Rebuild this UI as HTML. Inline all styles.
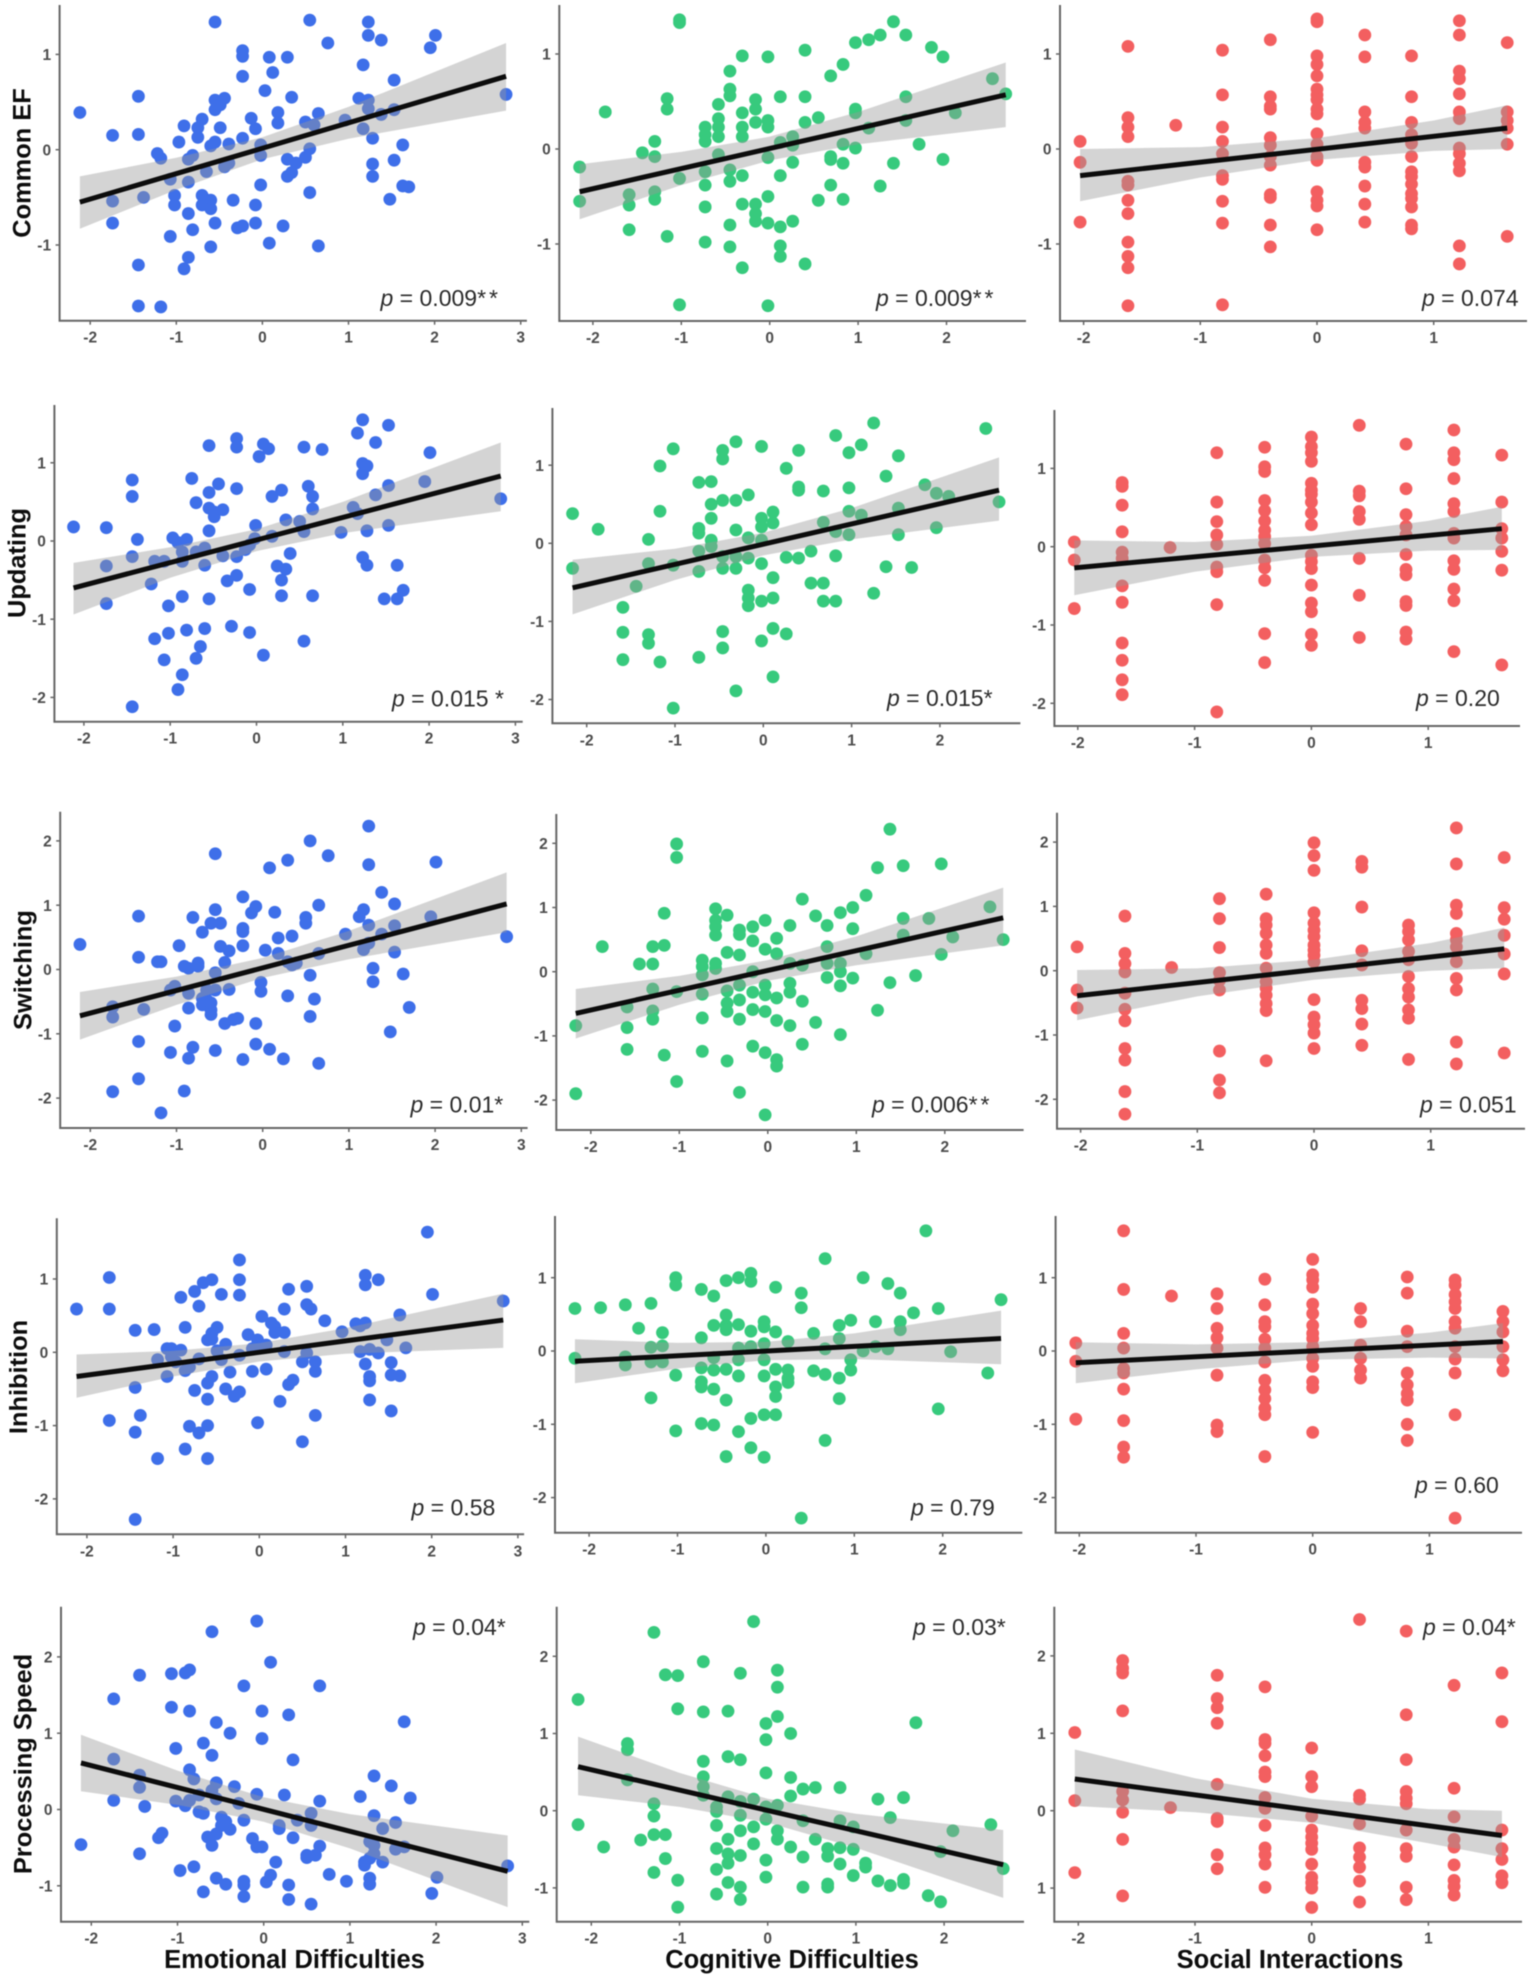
<!DOCTYPE html>
<html lang="en">
<head>
<meta charset="utf-8">
<title>Executive function and difficulties scatter matrix</title>
<style>
html,body{margin:0;padding:0;background:#fff;}
#chart{display:block;width:1535px;height:1981px;filter:blur(0.55px);}
text{font-family:"Liberation Sans",Arial,sans-serif;}
.row-title,.col-title{font-weight:bold;font-size:25.4px;fill:#0d0d0d;}
.col-title{font-size:25.5px;}
.tick-label{font-weight:bold;font-size:15.5px;fill:#4d4d4d;}
.p-label{font-size:23px;fill:#2b2b2b;}
.p-label .pi{font-style:italic;}
.p-label .st{letter-spacing:3px;}
</style>
</head>
<body>
<svg id="chart" xmlns="http://www.w3.org/2000/svg" width="1535" height="1981" viewBox="0 0 1535 1981">
<rect width="1535" height="1981" fill="#fff"/>
<g id="panels"></g>
<g>
<text class="row-title" text-anchor="middle" transform="translate(30.3 163) rotate(-90)">Common EF</text>
<text class="row-title" text-anchor="middle" transform="translate(25.3 563) rotate(-90)">Updating</text>
<text class="row-title" text-anchor="middle" transform="translate(31.7 970) rotate(-90)">Switching</text>
<text class="row-title" text-anchor="middle" transform="translate(26.9 1377) rotate(-90)">Inhibition</text>
<text class="row-title" text-anchor="middle" transform="translate(31.7 1764) rotate(-90)">Processing Speed</text>
</g>
<g>
<text class="col-title" text-anchor="middle" x="294.5" y="1968">Emotional Difficulties</text>
<text class="col-title" text-anchor="middle" x="792" y="1968">Cognitive Difficulties</text>
<text class="col-title" text-anchor="middle" x="1290" y="1968">Social Interactions</text>
</g>
<g>
<text class="p-label" x="380.5" y="306"><tspan class="pi">p</tspan> = 0.009<tspan class="st">**</tspan></text>
<text class="p-label" x="876" y="306"><tspan class="pi">p</tspan> = 0.009<tspan class="st">**</tspan></text>
<text class="p-label" x="1422" y="306"><tspan class="pi">p</tspan> = 0.074</text>
<text class="p-label" x="392" y="706.5"><tspan class="pi">p</tspan> = 0.015 *</text>
<text class="p-label" x="887" y="706"><tspan class="pi">p</tspan> = 0.015*</text>
<text class="p-label" x="1416" y="706"><tspan class="pi">p</tspan> = 0.20</text>
<text class="p-label" x="410.5" y="1112.5"><tspan class="pi">p</tspan> = 0.01*</text>
<text class="p-label" x="872" y="1112.5"><tspan class="pi">p</tspan> = 0.006<tspan class="st">**</tspan></text>
<text class="p-label" x="1420" y="1112.5"><tspan class="pi">p</tspan> = 0.051</text>
<text class="p-label" x="411.5" y="1515.5"><tspan class="pi">p</tspan> = 0.58</text>
<text class="p-label" x="911" y="1515.5"><tspan class="pi">p</tspan> = 0.79</text>
<text class="p-label" x="1415" y="1493"><tspan class="pi">p</tspan> = 0.60</text>
<text class="p-label" x="413" y="1635"><tspan class="pi">p</tspan> = 0.04*</text>
<text class="p-label" x="913" y="1635"><tspan class="pi">p</tspan> = 0.03*</text>
<text class="p-label" x="1423" y="1635"><tspan class="pi">p</tspan> = 0.04*</text>
</g>
</svg>
<script>
// Axis ticks
const xTicksEmotional = [-2, -1, 0, 1, 2, 3];
const xTicksCognitive = [-2, -1, 0, 1, 2];
const xTicksSocial = [-2, -1, 0, 1];
const yTicksCommonEf = [-1, 0, 1];
const yTicksUpdating = [-2, -1, 0, 1];
const yTicksSwitching = [-2, -1, 0, 1, 2];
const yTicksInhibition = [-2, -1, 0, 1];
const yTicksSpeed = [-1, 0, 1, 2];
// the reference prints the lowest tick of the last panel without its minus sign
const yLabelsSpeedSocial = ["1", "0", "1", "2"];

// Series: [x, y]
const commonEfEmotional = [[-2.12,0.39],[-1.74,0.15],[-1.74,-0.54],[-1.74,-0.77],[-1.44,0.56],[-1.44,0.16],[-1.38,-0.5],[-1.44,-1.21],[-1.44,-1.64],[-1.18,-1.65],[-1.22,-0.04],[-1.18,-0.09],[-1.07,-0.31],[-1.02,-0.48],[-1.02,-0.58],[-1.07,-0.91],[-0.97,0.08],[-0.91,0.25],[-0.86,-0.1],[-0.86,-0.34],[-0.86,-0.67],[-0.81,-0.84],[-0.86,-1.13],[-0.91,-1.25],[-0.81,-0.06],[-0.75,0.23],[-0.7,0.32],[-0.75,0.13],[-0.65,-0.23],[-0.7,-0.48],[-0.7,-0.58],[-0.65,-0.53],[-0.6,-0.53],[-0.6,-0.62],[-0.55,-0.77],[-0.6,-1.02],[-0.6,0.04],[-0.55,0.08],[-0.55,1.34],[-0.55,0.52],[-0.55,0.42],[-0.49,0.47],[-0.44,0.54],[-0.49,0.23],[-0.39,0.06],[-0.44,-0.18],[-0.39,-0.14],[-0.34,-0.53],[-0.29,-0.82],[-0.23,-0.8],[-0.23,0.12],[-0.23,0.77],[-0.23,0.98],[-0.23,1.04],[-0.13,0.33],[-0.08,0.22],[-0.08,-0.58],[-0.08,-0.77],[-0.02,0.05],[-0.02,-0.06],[-0.02,-0.37],[0.03,0.62],[0.08,0.97],[0.12,0.81],[0.08,-0.98],[0.18,0.39],[0.18,0.28],[0.24,-0.8],[0.29,0.97],[0.29,-0.1],[0.29,-0.28],[0.34,-0.24],[0.34,0.55],[0.39,-0.14],[0.5,0.29],[0.5,-0.08],[0.55,0.01],[0.55,-0.45],[0.55,1.36],[0.6,0.26],[0.65,0.38],[0.65,-1.01],[0.76,1.12],[0.96,0.31],[1.12,0.54],[1.17,0.89],[1.17,0.22],[1.23,0.52],[1.23,0.43],[1.23,1.2],[1.23,1.34],[1.28,0.12],[1.28,-0.15],[1.28,-0.28],[1.38,1.15],[1.38,0.37],[1.48,-0.52],[1.53,0.73],[1.53,0.42],[1.53,-0.11],[1.63,0.05],[1.63,-0.38],[1.7,-0.39],[1.95,1.07],[2.01,1.2],[2.83,0.58]];
const commonEfCognitive = [[-2.15,-0.19],[-2.15,-0.55],[-1.86,0.39],[-1.59,-0.48],[-1.59,-0.59],[-1.59,-0.85],[-1.44,-0.04],[-1.3,0.08],[-1.3,-0.08],[-1.3,-0.45],[-1.3,-0.53],[-1.16,0.53],[-1.16,0.42],[-1.16,-0.92],[-1.02,1.36],[-1.02,1.33],[-1.02,-0.31],[-1.02,-1.64],[-0.73,0.23],[-0.73,0.15],[-0.73,0.08],[-0.73,-0.24],[-0.73,-0.38],[-0.73,-0.61],[-0.73,-0.98],[-0.58,0.47],[-0.58,0.32],[-0.58,0.23],[-0.58,0.13],[-0.58,-0.06],[-0.45,0.82],[-0.45,0.63],[-0.45,0.56],[-0.45,-0.22],[-0.45,-0.34],[-0.45,-0.8],[-0.45,-1.03],[-0.31,0.98],[-0.31,0.38],[-0.31,0.23],[-0.31,0.13],[-0.31,-0.28],[-0.31,-0.58],[-0.31,-1.25],[-0.16,0.52],[-0.16,0.42],[-0.16,0.28],[-0.16,-0.58],[-0.16,-0.68],[-0.16,-0.76],[-0.02,0.97],[-0.02,0.3],[-0.02,0.23],[-0.02,-0.09],[-0.02,-0.5],[-0.02,-0.78],[-0.02,-1.65],[0.12,0.55],[0.12,0.07],[0.12,-0.28],[0.12,-0.82],[0.12,-1.02],[0.12,-1.13],[0.26,0.13],[0.26,0.04],[0.26,-0.14],[0.26,-0.76],[0.4,1.04],[0.4,0.55],[0.4,0.28],[0.4,-1.21],[0.55,0.33],[0.55,-0.54],[0.69,0.77],[0.69,-0.08],[0.69,-0.11],[0.69,-0.38],[0.83,0.89],[0.83,0.05],[0.83,-0.15],[0.83,-0.53],[0.97,1.12],[0.97,0.42],[0.97,0.38],[0.97,0.01],[1.12,1.15],[1.12,0.22],[1.25,1.2],[1.25,-0.39],[1.4,1.34],[1.4,-0.15],[1.54,1.2],[1.54,0.55],[1.54,0.3],[1.69,0.05],[1.83,1.07],[1.96,0.97],[1.96,-0.11],[2.1,0.38],[2.52,0.74],[2.67,0.58]];
const commonEfSocial = [[-2.03,0.08],[-2.03,-0.14],[-2.03,-0.77],[-1.62,1.08],[-1.62,0.33],[-1.62,0.23],[-1.62,0.13],[-1.62,-0.34],[-1.62,-0.38],[-1.62,-0.54],[-1.62,-0.68],[-1.62,-0.98],[-1.62,-1.13],[-1.62,-1.25],[-1.62,-1.65],[-1.21,0.25],[-0.81,1.04],[-0.81,0.57],[-0.81,0.23],[-0.81,0.08],[-0.81,-0.05],[-0.81,-0.28],[-0.81,-0.32],[-0.81,-0.55],[-0.81,-0.78],[-0.81,-1.64],[-0.4,1.15],[-0.4,0.55],[-0.4,0.45],[-0.4,0.42],[-0.4,0.12],[-0.4,0.04],[-0.4,-0.08],[-0.4,-0.17],[-0.4,-0.48],[-0.4,-0.51],[-0.4,-0.8],[-0.4,-1.03],[0,1.37],[0,1.34],[0,0.98],[0,0.89],[0,0.77],[0,0.63],[0,0.57],[0,0.52],[0,0.42],[0,0.37],[0,0.16],[0,0.05],[0,-0.08],[0,-0.12],[0,-0.45],[0,-0.54],[0,-0.6],[0,-0.85],[0.41,1.2],[0.41,0.97],[0.41,0.39],[0.41,0.28],[0.41,0.22],[0.41,-0.14],[0.41,-0.19],[0.41,-0.39],[0.41,-0.58],[0.41,-0.77],[0.81,0.98],[0.81,0.55],[0.81,0.28],[0.81,0.15],[0.81,0.06],[0.81,-0.08],[0.81,-0.24],[0.81,-0.29],[0.81,-0.37],[0.81,-0.47],[0.81,-0.52],[0.81,-0.61],[0.81,-0.8],[0.81,-0.84],[1.22,1.35],[1.22,1.2],[1.22,0.82],[1.22,0.74],[1.22,0.58],[1.22,0.39],[1.22,0.32],[1.22,0.01],[1.22,-0.05],[1.22,-0.15],[1.22,-0.23],[1.22,-1.02],[1.22,-1.21],[1.63,1.12],[1.63,0.39],[1.63,0.3],[1.63,0.22],[1.63,0.05],[1.63,-0.92]];

const updatingEmotional = [[-2.12,0.18],[-1.74,0.17],[-1.74,-0.32],[-1.74,-0.8],[-1.44,0.78],[-1.44,0.57],[-1.44,-0.2],[-1.44,-2.12],[-1.38,0.02],[-1.22,-0.55],[-1.18,-0.26],[-1.18,-1.25],[-1.07,-0.26],[-1.07,-1.52],[-1.02,-0.83],[-1.02,-1.18],[-0.97,0.04],[-0.91,-0.02],[-0.91,-1.9],[-0.86,-0.14],[-0.86,-0.26],[-0.86,-0.71],[-0.86,-1.71],[-0.81,0.02],[-0.81,-1.14],[-0.75,0.8],[-0.7,0.49],[-0.7,-0.14],[-0.7,-1.5],[-0.65,-1.35],[-0.6,-0.09],[-0.6,-0.31],[-0.6,-1.12],[-0.55,1.22],[-0.55,0.62],[-0.55,0.42],[-0.55,0.13],[-0.55,-0.74],[-0.49,0.37],[-0.49,0.31],[-0.44,0.73],[-0.39,0.4],[-0.39,-0.19],[-0.34,-0.51],[-0.29,-1.09],[-0.23,1.31],[-0.23,1.2],[-0.23,0.67],[-0.23,-0.2],[-0.23,-0.44],[-0.13,-0.11],[-0.08,-0.05],[-0.08,-0.62],[-0.08,-1.17],[-0.02,0.03],[-0.01,0.2],[0.03,1.08],[0.08,1.24],[0.08,-1.46],[0.14,1.18],[0.18,0.57],[0.18,0.06],[0.24,-0.32],[0.29,0.65],[0.29,-0.5],[0.29,-0.7],[0.34,0.27],[0.34,-0.36],[0.39,-0.16],[0.5,0.25],[0.55,1.2],[0.55,0.12],[0.55,-1.28],[0.6,0.7],[0.65,0.57],[0.65,0.41],[0.65,-0.7],[0.76,1.17],[0.98,0.11],[1.12,0.43],[1.17,1.38],[1.17,0.35],[1.23,1.55],[1.23,0.99],[1.23,0.86],[1.23,-0.21],[1.28,0.96],[1.28,0.13],[1.28,-0.31],[1.38,1.26],[1.38,0.59],[1.48,-0.74],[1.53,1.48],[1.53,0.71],[1.53,0.2],[1.63,-0.31],[1.63,-0.74],[1.7,-0.63],[1.95,0.76],[2.01,1.13],[2.83,0.54]];
const updatingCognitive = [[-2.16,0.38],[-2.16,-0.32],[-1.87,0.18],[-1.59,-0.82],[-1.59,-1.14],[-1.59,-1.49],[-1.44,-0.55],[-1.3,0.05],[-1.3,-0.26],[-1.3,-1.17],[-1.3,-1.28],[-1.17,0.99],[-1.17,0.41],[-1.17,-1.52],[-1.02,1.21],[-1.02,-0.28],[-1.02,-2.11],[-0.73,0.78],[-0.73,0.19],[-0.73,0.13],[-0.73,-0.1],[-0.73,-0.36],[-0.73,-1.46],[-0.59,0.79],[-0.59,0.5],[-0.59,0.32],[-0.59,0.04],[-0.59,-0.04],[-0.46,1.19],[-0.46,1.08],[-0.46,0.55],[-0.46,-0.17],[-0.46,-0.32],[-0.46,-1.13],[-0.46,-1.34],[-0.31,1.3],[-0.31,0.55],[-0.31,0.17],[-0.31,-0.17],[-0.31,-0.32],[-0.31,-1.89],[-0.17,0.62],[-0.17,0.07],[-0.17,-0.19],[-0.17,-0.6],[-0.17,-0.7],[-0.17,-0.8],[-0.02,1.24],[-0.02,0.32],[-0.02,0.21],[-0.02,0.04],[-0.02,-0.26],[-0.02,-0.74],[-0.02,-1.25],[0.11,0.4],[0.11,0.26],[0.11,-0.44],[0.11,-0.7],[0.11,-1.09],[0.11,-1.71],[0.26,0.96],[0.26,-0.18],[0.26,-1.16],[0.4,1.19],[0.4,0.72],[0.4,0.68],[0.4,-0.19],[0.54,-0.1],[0.54,-0.51],[0.68,0.67],[0.68,0.27],[0.68,-0.51],[0.68,-0.74],[0.82,1.38],[0.82,0.15],[0.82,-0.16],[0.82,-0.74],[0.97,1.16],[0.97,0.71],[0.97,0.41],[0.97,0.11],[1.11,1.26],[1.11,0.36],[1.25,1.54],[1.25,-0.64],[1.39,0.86],[1.39,-0.3],[1.53,1.12],[1.53,0.45],[1.53,0.11],[1.68,-0.31],[1.83,0.75],[1.96,0.64],[1.96,0.2],[2.1,0.6],[2.52,1.47],[2.67,0.53]];
const updatingSocial = [[-2.03,0.06],[-2.03,-0.17],[-2.03,-0.79],[-1.62,0.82],[-1.62,0.77],[-1.62,0.53],[-1.62,0.19],[-1.62,-0.07],[-1.62,-0.15],[-1.62,-0.5],[-1.62,-0.71],[-1.62,-1.23],[-1.62,-1.45],[-1.62,-1.7],[-1.62,-1.89],[-1.21,-0.01],[-0.81,1.2],[-0.81,0.57],[-0.81,0.32],[-0.81,0.15],[-0.81,0.03],[-0.81,-0.26],[-0.81,-0.32],[-0.81,-0.74],[-0.81,-2.11],[-0.4,1.27],[-0.4,1.02],[-0.4,0.96],[-0.4,0.59],[-0.4,0.46],[-0.4,0.33],[-0.4,0.21],[-0.4,0.13],[-0.4,0.04],[-0.4,-0.17],[-0.4,-0.27],[-0.4,-0.43],[-0.4,-1.11],[-0.4,-1.48],[0,1.4],[0,1.28],[0,1.2],[0,1.09],[0,0.81],[0,0.72],[0,0.67],[0,0.57],[0,0.43],[0,0.28],[0,-0.11],[0,-0.19],[0,-0.28],[0,-0.49],[0,-0.72],[0,-0.83],[0,-1.12],[0,-1.26],[0.41,1.55],[0.41,0.71],[0.41,0.65],[0.41,0.45],[0.41,0.35],[0.41,-0.15],[0.41,-0.62],[0.41,-1.16],[0.81,1.31],[0.81,0.74],[0.81,0.41],[0.81,0.26],[0.81,0.15],[0.81,-0.1],[0.81,-0.29],[0.81,-0.36],[0.81,-0.7],[0.81,-0.75],[0.81,-1.09],[0.81,-1.18],[1.22,1.49],[1.22,1.2],[1.22,1.11],[1.22,0.87],[1.22,0.55],[1.22,0.45],[1.22,0.17],[1.22,0.11],[1.22,-0.18],[1.22,-0.29],[1.22,-0.54],[1.22,-0.69],[1.22,-1.34],[1.63,1.17],[1.63,0.57],[1.63,0.23],[1.63,0.11],[1.63,-0.06],[1.63,-0.3],[1.63,-1.51]];

const switchingEmotional = [[-2.12,0.39],[-1.74,-0.58],[-1.74,-0.74],[-1.74,-1.9],[-1.44,0.83],[-1.44,0.19],[-1.44,-1.12],[-1.44,-1.7],[-1.38,-0.62],[-1.22,0.12],[-1.18,0.12],[-1.18,-2.23],[-1.07,-0.32],[-1.07,-1.29],[-1.02,-0.26],[-1.02,-0.88],[-0.97,0.37],[-0.91,0.05],[-0.91,-1.89],[-0.86,0.02],[-0.86,-0.37],[-0.86,-0.6],[-0.86,-1.38],[-0.81,0.81],[-0.81,-1.21],[-0.75,0.1],[-0.75,0.05],[-0.7,0.58],[-0.7,-0.45],[-0.7,-0.55],[-0.65,-0.32],[-0.65,-0.47],[-0.65,-0.55],[-0.6,0.72],[-0.6,-0.52],[-0.6,-0.63],[-0.6,-0.7],[-0.55,1.8],[-0.55,0.93],[-0.55,-0.05],[-0.55,-0.32],[-0.55,-1.26],[-0.49,0.72],[-0.49,0.36],[-0.44,0.11],[-0.44,-0.84],[-0.39,0.29],[-0.39,-0.31],[-0.34,-0.78],[-0.29,-0.76],[-0.23,1.13],[-0.23,0.64],[-0.23,0.59],[-0.23,0.37],[-0.23,-1.4],[-0.13,0.88],[-0.08,0.98],[-0.08,-0.84],[-0.08,-1.16],[-0.02,-0.2],[-0.02,-0.34],[0.03,0.3],[0.08,1.58],[0.08,-1.24],[0.14,0.89],[0.18,0.49],[0.18,0.25],[0.24,-1.39],[0.29,1.7],[0.29,0.12],[0.29,-0.41],[0.34,0.52],[0.34,0.07],[0.39,0.1],[0.5,0.81],[0.5,0.72],[0.55,2],[0.55,-0.09],[0.55,-0.73],[0.6,-0.46],[0.65,1],[0.65,0.25],[0.65,-1.46],[0.76,1.77],[0.96,0.55],[1.12,0.82],[1.17,0.93],[1.17,0.31],[1.23,2.23],[1.23,1.63],[1.23,0.69],[1.23,0.41],[1.28,0.02],[1.28,-0.19],[1.38,1.2],[1.38,0.55],[1.48,-0.97],[1.53,1.02],[1.53,0.68],[1.53,0.27],[1.63,-0.07],[1.7,-0.59],[1.95,0.82],[2.01,1.67],[2.83,0.51]];
const switchingCognitive = [[-2.17,-0.84],[-2.17,-1.9],[-1.87,0.39],[-1.59,-0.55],[-1.59,-0.87],[-1.59,-1.21],[-1.45,0.12],[-1.3,0.39],[-1.3,0.12],[-1.3,-0.27],[-1.3,-0.61],[-1.3,-0.74],[-1.17,0.91],[-1.17,0.41],[-1.17,-1.3],[-1.03,1.99],[-1.03,1.78],[-1.03,-0.31],[-1.03,-1.71],[-0.74,0.18],[-0.74,0.08],[-0.74,-0.05],[-0.74,-0.35],[-0.74,-0.72],[-0.74,-1.24],[-0.59,0.98],[-0.59,0.8],[-0.59,0.7],[-0.59,0.57],[-0.59,0.13],[-0.59,0.05],[-0.46,0.88],[-0.46,0.3],[-0.46,-0.3],[-0.46,-0.49],[-0.46,-0.62],[-0.46,-1.39],[-0.32,0.65],[-0.32,0.58],[-0.32,0.26],[-0.32,-0.21],[-0.32,-0.44],[-0.32,-0.74],[-0.32,-1.88],[-0.17,0.7],[-0.17,0.48],[-0.17,0],[-0.17,-0.32],[-0.17,-0.59],[-0.17,-1.16],[-0.03,0.8],[-0.03,0.35],[-0.03,-0.21],[-0.03,-0.36],[-0.03,-0.62],[-0.03,-1.26],[-0.03,-2.23],[0.1,0.52],[0.1,0.28],[0.1,-0.41],[0.1,-0.76],[0.1,-1.37],[0.1,-1.47],[0.25,0.72],[0.25,0.13],[0.25,-0.18],[0.25,-0.32],[0.25,-0.84],[0.39,1.13],[0.39,0.1],[0.39,-0.46],[0.39,-1.13],[0.54,0.87],[0.54,-0.79],[0.67,0.72],[0.67,0.39],[0.67,0.13],[0.67,-0.09],[0.82,0.92],[0.82,0.13],[0.82,0],[0.82,-0.22],[0.82,-0.98],[0.96,1],[0.96,0.67],[0.96,-0.1],[1.11,1.19],[1.11,0.28],[1.24,1.62],[1.24,-0.6],[1.38,2.22],[1.38,-0.17],[1.53,1.65],[1.53,0.83],[1.53,0.57],[1.67,-0.06],[1.82,0.83],[1.96,1.68],[1.96,0.27],[2.09,0.54],[2.51,1.01],[2.66,0.5]];
const switchingSocial = [[-2.03,0.37],[-2.03,-0.3],[-2.03,-0.58],[-1.62,0.85],[-1.62,0.27],[-1.62,0.11],[-1.62,-0.02],[-1.62,-0.35],[-1.62,-0.6],[-1.62,-0.78],[-1.62,-1.21],[-1.62,-1.39],[-1.62,-1.88],[-1.62,-2.23],[-1.22,0.05],[-0.81,1.12],[-0.81,0.81],[-0.81,0.36],[-0.81,-0.03],[-0.81,-0.15],[-0.81,-0.3],[-0.81,-1.25],[-0.81,-1.7],[-0.81,-1.9],[-0.41,1.19],[-0.41,0.81],[-0.41,0.71],[-0.41,0.58],[-0.41,0.4],[-0.41,0.27],[-0.41,0.04],[-0.41,-0.17],[-0.41,-0.27],[-0.41,-0.38],[-0.41,-0.51],[-0.41,-0.62],[-0.41,-1.4],[0,1.99],[0,1.79],[0,1.56],[0,0.9],[0,0.74],[0,0.63],[0,0.53],[0,0.4],[0,0.32],[0,0.24],[0,0.14],[0,-0.45],[0,-0.72],[0,-0.84],[0,-0.97],[0,-1.21],[0.41,1.7],[0.41,1.61],[0.41,0.99],[0.41,0.31],[0.41,0.09],[0.41,-0.46],[0.41,-0.59],[0.41,-0.83],[0.41,-1.16],[0.81,0.71],[0.81,0.61],[0.81,0.48],[0.81,0.3],[0.81,0.17],[0.81,-0.09],[0.81,-0.28],[0.81,-0.41],[0.81,-0.61],[0.81,-0.74],[0.81,-1.38],[1.22,2.22],[1.22,1.66],[1.22,1.02],[1.22,0.89],[1.22,0.58],[1.22,0.48],[1.22,0.37],[1.22,0.14],[1.22,-0.12],[1.22,-0.3],[1.22,-1.11],[1.22,-1.45],[1.63,1.76],[1.63,0.98],[1.63,0.8],[1.63,0.55],[1.63,0.26],[1.63,-0.05],[1.63,-1.28]];

const inhibitionEmotional = [[-2.12,0.59],[-1.74,1.02],[-1.74,0.59],[-1.74,-0.93],[-1.44,0.3],[-1.44,-0.48],[-1.44,-1.09],[-1.44,-2.28],[-1.38,-0.86],[-1.22,0.31],[-1.18,-0.1],[-1.18,-1.45],[-1.07,0.05],[-1.07,-0.33],[-1.02,0.05],[-1.02,-0.06],[-0.97,-0.13],[-0.91,0.03],[-0.91,0.75],[-0.86,0.34],[-0.86,-0.25],[-0.86,-1.32],[-0.81,-1.01],[-0.81,-0.2],[-0.75,0.83],[-0.75,-0.52],[-0.7,0.63],[-0.7,-0.09],[-0.7,-1.1],[-0.65,0.95],[-0.6,0.17],[-0.6,-0.42],[-0.6,-0.64],[-0.6,-1],[-0.6,-1.45],[-0.55,0.99],[-0.55,0.26],[-0.55,0.18],[-0.55,-0.33],[-0.49,0.34],[-0.49,0.02],[-0.44,0.79],[-0.44,-0.1],[-0.39,0.11],[-0.39,-0.5],[-0.34,-0.27],[-0.29,-0.6],[-0.23,1.26],[-0.23,0.99],[-0.23,0.78],[-0.23,-0.04],[-0.23,-0.54],[-0.13,0.24],[-0.08,0.05],[-0.08,-0.26],[-0.02,0.17],[-0.02,-0.96],[0.03,0.49],[0.03,0.08],[0.08,0.1],[0.08,-0.23],[0.14,0.4],[0.18,0.35],[0.18,0.27],[0.24,-0.67],[0.29,0.59],[0.29,0.27],[0.29,0.01],[0.34,0.86],[0.34,-0.44],[0.39,-0.38],[0.5,-0.13],[0.5,-1.22],[0.55,0.9],[0.55,0.65],[0.55,-0.01],[0.6,0.59],[0.65,-0.13],[0.65,-0.26],[0.65,-0.86],[0.76,0.43],[0.96,0.28],[1.12,0.39],[1.17,0.01],[1.17,0.36],[1.23,1.05],[1.23,0.92],[1.23,0.4],[1.23,-0.16],[1.28,0.04],[1.28,-0.33],[1.28,-0.39],[1.28,-0.65],[1.38,0.99],[1.38,-0.01],[1.48,0.17],[1.53,-0.14],[1.53,-0.31],[1.53,-0.8],[1.63,0.51],[1.63,-0.32],[1.7,0.06],[1.95,1.64],[2.01,0.79],[2.83,0.7]];
const inhibitionCognitive = [[-2.16,0.58],[-2.16,-0.1],[-1.87,0.59],[-1.59,0.63],[-1.59,-0.08],[-1.59,-0.19],[-1.44,0.31],[-1.3,0.65],[-1.3,0.05],[-1.3,-0.15],[-1.3,-0.64],[-1.17,0.25],[-1.17,0.07],[-1.17,-0.15],[-1.02,1],[-1.02,0.9],[-1.02,-0.33],[-1.02,-1.09],[-0.73,0.84],[-0.73,0.18],[-0.73,-0.23],[-0.73,-0.42],[-0.73,-0.49],[-0.73,-0.99],[-0.59,0.75],[-0.59,0.35],[-0.59,-0.09],[-0.59,-0.26],[-0.59,-0.52],[-0.59,-1.01],[-0.45,0.96],[-0.45,0.49],[-0.45,0.35],[-0.45,0.29],[-0.45,-0.25],[-0.45,-0.67],[-0.45,-1.44],[-0.31,1],[-0.31,0.36],[-0.31,0.04],[-0.31,-0.12],[-0.31,-0.34],[-0.31,-1.1],[-0.17,1.06],[-0.17,0.95],[-0.17,0.27],[-0.17,0.06],[-0.17,-0.92],[-0.17,-1.32],[-0.02,0.4],[-0.02,0.33],[-0.02,0.1],[-0.02,-0.12],[-0.02,-0.34],[-0.02,-0.87],[-0.02,-1.45],[0.11,0.87],[0.11,0.26],[0.11,-0.25],[0.11,-0.49],[0.11,-0.62],[0.11,-0.87],[0.25,0.13],[0.25,-0.26],[0.25,-0.37],[0.25,-0.43],[0.4,0.79],[0.4,0.59],[0.4,-2.28],[0.54,0.24],[0.54,-0.27],[0.67,1.26],[0.67,0.03],[0.67,-0.32],[0.67,-1.22],[0.83,0.35],[0.83,0.17],[0.83,-0.37],[0.83,-0.65],[0.96,0.42],[0.96,-0.12],[0.96,-0.26],[1.1,1],[1.1,0],[1.24,0.4],[1.24,0.06],[1.38,0.92],[1.38,0.03],[1.52,0.79],[1.52,0.4],[1.52,0.29],[1.67,0.52],[1.81,1.64],[1.95,0.58],[1.95,-0.79],[2.09,-0.01],[2.51,-0.3],[2.66,0.7]];
const inhibitionSocial = [[-2.03,0.11],[-2.03,-0.14],[-2.03,-0.93],[-1.62,1.64],[-1.62,0.84],[-1.62,0.24],[-1.62,0.04],[-1.62,-0.24],[-1.62,-0.3],[-1.62,-0.52],[-1.62,-0.95],[-1.62,-1.31],[-1.62,-1.45],[-1.21,0.75],[-0.82,0.78],[-0.82,0.58],[-0.82,0.31],[-0.82,0.18],[-0.82,0.04],[-0.82,-0.33],[-0.82,-1.01],[-0.82,-1.1],[-0.41,0.98],[-0.41,0.63],[-0.41,0.4],[-0.41,0.33],[-0.41,0.16],[-0.41,0.04],[-0.41,-0.15],[-0.41,-0.4],[-0.41,-0.53],[-0.41,-0.65],[-0.41,-0.78],[-0.41,-0.87],[-0.41,-1.44],[0,1.25],[0,1.04],[0,0.97],[0,0.87],[0,0.64],[0,0.51],[0,0.35],[0,0.24],[0,0.17],[0,0.06],[0,-0.1],[0,-0.21],[0,-0.42],[0,-0.5],[0,-1.11],[0.41,0.58],[0.41,0.4],[0.41,0.08],[0.41,-0.1],[0.41,-0.26],[0.41,-0.37],[0.81,1.01],[0.81,0.79],[0.81,0.27],[0.81,0.06],[0.81,-0.3],[0.81,-0.46],[0.81,-0.58],[0.81,-0.67],[0.81,-1],[0.81,-1.22],[1.22,0.97],[1.22,0.9],[1.22,0.77],[1.22,0.67],[1.22,0.58],[1.22,0.4],[1.22,0.31],[1.22,0.06],[1.22,-0.11],[1.22,-0.3],[1.22,-0.87],[1.22,-2.28],[1.63,0.54],[1.63,0.4],[1.63,0.26],[1.63,0.06],[1.63,-0.12],[1.63,-0.27]];

const speedEmotional = [[-2.12,-0.46],[-1.74,1.45],[-1.74,0.66],[-1.74,0.12],[-1.44,1.76],[-1.44,0.45],[-1.44,0.29],[-1.44,-0.58],[-1.38,0.04],[-1.22,-0.37],[-1.18,-0.31],[-1.07,1.78],[-1.07,1.34],[-1.02,0.8],[-1.02,0.11],[-0.97,-0.8],[-0.91,1.79],[-0.91,0.05],[-0.86,1.83],[-0.86,1.29],[-0.86,0.52],[-0.86,0.12],[-0.81,0.4],[-0.81,-0.75],[-0.75,0.19],[-0.75,-0.03],[-0.7,0.87],[-0.7,-0.05],[-0.7,-1.08],[-0.65,-0.36],[-0.6,2.33],[-0.6,0.71],[-0.6,0.25],[-0.6,-0.47],[-0.55,1.14],[-0.55,0.35],[-0.55,0.14],[-0.55,-0.32],[-0.55,-0.9],[-0.49,-0.1],[-0.49,-0.21],[-0.44,-0.16],[-0.44,-0.98],[-0.39,1],[-0.39,-0.26],[-0.34,0.3],[-0.29,0.08],[-0.23,1.62],[-0.23,-0.14],[-0.23,-0.94],[-0.23,-0.99],[-0.23,-1.14],[-0.13,-0.38],[-0.08,0.2],[-0.08,-0.49],[-0.08,2.47],[-0.02,1.29],[-0.02,0.93],[-0.02,-0.49],[0.03,-0.95],[0.08,1.93],[0.08,-0.86],[0.14,-0.69],[0.18,-0.21],[0.18,-0.25],[0.24,0.19],[0.29,1.24],[0.29,-0.99],[0.29,-1.18],[0.34,0.65],[0.34,-0.37],[0.39,-0.14],[0.5,-0.6],[0.5,-0.63],[0.55,-0.05],[0.55,-0.21],[0.55,-1.24],[0.6,-0.6],[0.65,1.62],[0.65,0.11],[0.65,-0.48],[0.76,-0.85],[0.96,-0.94],[1.12,0.17],[1.17,-0.69],[1.17,-0.73],[1.23,-0.42],[1.23,-0.9],[1.23,-0.98],[1.23,-0.64],[1.28,0.44],[1.28,-0.08],[1.28,-0.47],[1.28,-0.58],[1.38,-0.25],[1.38,-0.69],[1.48,0.31],[1.53,-0.17],[1.53,-0.52],[1.63,1.15],[1.63,-0.49],[1.7,0.15],[1.95,-1.1],[2.01,-0.89],[2.83,-0.74]];
const speedCognitive = [[-2.15,1.44],[-2.15,-0.18],[-1.86,-0.47],[-1.59,0.87],[-1.59,0.79],[-1.59,0.4],[-1.44,-0.38],[-1.29,2.31],[-1.29,0.09],[-1.29,-0.07],[-1.29,-0.31],[-1.29,-0.8],[-1.16,1.76],[-1.16,-0.31],[-1.16,-0.62],[-1.02,1.75],[-1.02,1.32],[-1.02,-0.9],[-1.02,-1.25],[-0.73,1.93],[-0.73,1.28],[-0.73,0.64],[-0.73,0.44],[-0.73,0.31],[-0.73,0.2],[-0.58,0.05],[-0.58,-0.01],[-0.58,-0.19],[-0.58,-0.49],[-0.58,-0.76],[-0.58,-1.08],[-0.45,1.29],[-0.45,0.7],[-0.45,0.18],[-0.45,-0.37],[-0.45,-0.56],[-0.45,-0.68],[-0.45,-0.93],[-0.31,1.78],[-0.31,0.66],[-0.31,0.12],[-0.31,-0.06],[-0.31,-0.26],[-0.31,-0.58],[-0.31,-0.99],[-0.31,-1.15],[-0.16,2.45],[-0.16,0.15],[-0.16,-0.21],[-0.16,-0.43],[-0.02,1.13],[-0.02,0.92],[-0.02,0.49],[-0.02,0.05],[-0.02,-0.11],[-0.02,-0.64],[-0.02,-0.86],[0.11,1.82],[0.11,1.6],[0.11,1.22],[0.11,0.07],[0.11,-0.26],[0.11,-0.37],[0.26,1],[0.26,0.43],[0.26,0.19],[0.26,-0.47],[0.4,0.28],[0.4,-0.13],[0.4,-0.6],[0.4,-0.99],[0.54,0.3],[0.54,-0.37],[0.68,-0.49],[0.68,-0.59],[0.68,-0.95],[0.68,-0.99],[0.82,0.3],[0.82,-0.13],[0.82,-0.48],[0.82,-0.69],[0.97,-0.21],[0.97,-0.5],[0.97,-0.84],[1.11,-0.68],[1.11,-0.73],[1.25,0.15],[1.25,-0.91],[1.39,-0.09],[1.39,-0.97],[1.54,0.17],[1.54,-0.89],[1.54,-0.94],[1.68,1.14],[1.82,-1.1],[1.96,-0.53],[1.96,-1.18],[2.1,-0.26],[2.53,-0.18],[2.67,-0.75]];
const speedSocial = [[-2.03,1.01],[-2.03,0.13],[-2.03,-0.8],[-1.62,1.94],[-1.62,1.84],[-1.62,1.78],[-1.62,1.29],[-1.62,0.25],[-1.62,0.14],[-1.62,-0.02],[-1.62,-0.37],[-1.62,-1.1],[-1.21,0.04],[-0.81,1.75],[-0.81,1.45],[-0.81,1.33],[-0.81,1.13],[-0.81,0.34],[-0.81,-0.1],[-0.81,-0.14],[-0.81,-0.57],[-0.81,-0.75],[-0.4,1.6],[-0.4,0.92],[-0.4,0.87],[-0.4,0.71],[-0.4,0.5],[-0.4,0.44],[-0.4,0.17],[-0.4,0.03],[-0.4,-0.19],[-0.4,-0.48],[-0.4,-0.57],[-0.4,-0.69],[-0.4,-0.99],[0,0.81],[0,0.44],[0,0.31],[0,-0.07],[0,-0.25],[0,-0.34],[0,-0.42],[0,-0.5],[0,-0.69],[0,-0.86],[0,-0.93],[0,-1],[0,-1.25],[0.41,2.47],[0.41,0.2],[0.41,0.15],[0.41,-0.17],[0.41,-0.48],[0.41,-0.6],[0.41,-0.73],[0.41,-0.91],[0.41,-1.18],[0.81,2.32],[0.81,1.24],[0.81,0.66],[0.81,0.25],[0.81,0.16],[0.81,0.09],[0.81,-0.25],[0.81,-0.49],[0.81,-0.59],[0.81,-0.99],[0.81,-1.15],[1.22,1.62],[1.22,0.29],[1.22,-0.08],[1.22,-0.37],[1.22,-0.47],[1.22,-0.7],[1.22,-0.9],[1.22,-0.98],[1.22,-1.09],[1.63,1.78],[1.63,1.15],[1.63,-0.25],[1.63,-0.49],[1.63,-0.63],[1.63,-0.84],[1.63,-0.93]];

// Regression lines: [x, y] at each end
const commonEfEmotionalFit = [[-2.12,-0.55],[2.83,0.77]];
const commonEfCognitiveFit = [[-2.15,-0.45],[2.67,0.57]];
const commonEfSocialFit = [[-2.03,-0.28],[1.63,0.22]];
const updatingEmotionalFit = [[-2.12,-0.6],[2.83,0.83]];
const updatingCognitiveFit = [[-2.16,-0.57],[2.67,0.68]];
const updatingSocialFit = [[-2.03,-0.27],[1.63,0.23]];
const switchingEmotionalFit = [[-2.12,-0.72],[2.83,1.02]];
const switchingCognitiveFit = [[-2.17,-0.65],[2.66,0.84]];
const switchingSocialFit = [[-2.03,-0.39],[1.63,0.34]];
const inhibitionEmotionalFit = [[-2.12,-0.33],[2.83,0.44]];
const inhibitionCognitiveFit = [[-2.16,-0.14],[2.66,0.17]];
const inhibitionSocialFit = [[-2.03,-0.16],[1.63,0.13]];
const speedEmotionalFit = [[-2.12,0.61],[2.83,-0.81]];
const speedCognitiveFit = [[-2.15,0.57],[2.67,-0.7]];
const speedSocialFit = [[-2.03,0.41],[1.63,-0.32]];

// Confidence bands: [x, lower, upper]
const commonEfEmotionalBand = [[-2.12,-0.83,-0.28],[-1,-0.42,-0.085],[0,-0.1,0.13],[1,0.115,0.45],[2.83,0.41,1.12]];
const commonEfCognitiveBand = [[-2.15,-0.74,-0.16],[-1,-0.38,-0.03],[0,-0.12,0.13],[1,0.05,0.39],[2.67,0.23,0.91]];
const commonEfSocialBand = [[-2.03,-0.55,0],[-1,-0.3,0.02],[0,-0.115,0.115],[1,-0.02,0.3],[1.63,0,0.46]];
const updatingEmotionalBand = [[-2.12,-0.94,-0.28],[-1,-0.47,-0.08],[0,-0.13,0.15],[1,0.1,0.5],[2.83,0.38,1.26]];
const updatingCognitiveBand = [[-2.16,-0.91,-0.21],[-1,-0.47,-0.07],[0,-0.155,0.135],[1,0.05,0.45],[2.67,0.29,1.1]];
const updatingSocialBand = [[-2.03,-0.62,0.08],[-1,-0.32,0.06],[0,-0.13,0.14],[1,-0.05,0.33],[1.63,-0.04,0.51]];
const switchingEmotionalBand = [[-2.12,-1.09,-0.35],[-1,-0.55,-0.11],[0,-0.13,0.18],[1,0.16,0.6],[2.83,0.58,1.51]];
const switchingCognitiveBand = [[-2.17,-1.04,-0.27],[-1,-0.515,-0.065],[0,-0.14,0.18],[1,0.1,0.55],[2.66,0.41,1.31]];
const switchingSocialBand = [[-2.03,-0.77,0.01],[-1,-0.4,0.036],[0,-0.14,0.17],[1,0,0.43],[1.63,0.04,0.67]];
const inhibitionEmotionalBand = [[-2.12,-0.62,-0.03],[-1,-0.33,0.02],[0,-0.125,0.125],[1,-0.02,0.33],[2.83,0.06,0.8]];
const inhibitionCognitiveBand = [[-2.16,-0.44,0.16],[-1,-0.24,0.11],[0,-0.125,0.125],[1,-0.11,0.24],[2.66,-0.18,0.55]];
const inhibitionSocialBand = [[-2.03,-0.44,0.12],[-1,-0.25,0.09],[0,-0.12,0.12],[1,-0.09,0.25],[1.63,-0.1,0.38]];
const speedEmotionalBand = [[-2.12,0.24,0.98],[-1,0.06,0.51],[0,-0.16,0.16],[1,-0.51,-0.06],[2.83,-1.28,-0.34]];
const speedCognitiveBand = [[-2.15,0.2,0.96],[-1,0.05,0.49],[0,-0.155,0.155],[1,-0.48,-0.04],[2.67,-1.13,-0.25]];
const speedSocialBand = [[-2.03,0.06,0.79],[-1,-0.02,0.42],[0,-0.155,0.155],[1,-0.42,0.02],[1.63,-0.6,0]];

const BLUE = "#3e6fe9", GREEN = "#37ca7d", RED = "#f35f60";

// Panel frames and axis scales (pixel origin and pixels per unit)
const panels = [
 {id:"common-ef-emotional",pts:commonEfEmotional,fit:commonEfEmotionalFit,band:commonEfEmotionalBand,xt:xTicksEmotional,yt:yTicksCommonEf,c:BLUE,L:59.6,R:526.9,T:5,B:320.7,x0:262.4,xu:86.1,y0:149.7,yu:95.3},
 {id:"common-ef-cognitive",pts:commonEfCognitive,fit:commonEfCognitiveFit,band:commonEfCognitiveBand,xt:xTicksCognitive,yt:yTicksCommonEf,c:GREEN,L:559.3,R:1026,T:5,B:321,x0:769.7,xu:88.4,y0:149,yu:95},
 {id:"common-ef-social",pts:commonEfSocial,fit:commonEfSocialFit,band:commonEfSocialBand,xt:xTicksSocial,yt:yTicksCommonEf,c:RED,L:1060,R:1527,T:5,B:321,x0:1317,xu:116.7,y0:149,yu:95},
 {id:"updating-emotional",pts:updatingEmotional,fit:updatingEmotionalFit,band:updatingEmotionalBand,xt:xTicksEmotional,yt:yTicksUpdating,c:BLUE,L:54.4,R:522.7,T:405,B:721.7,x0:256.5,xu:86.3,y0:541,yu:78.2},
 {id:"updating-cognitive",pts:updatingCognitive,fit:updatingCognitiveFit,band:updatingCognitiveBand,xt:xTicksCognitive,yt:yTicksUpdating,c:GREEN,L:552.4,R:1020.4,T:408,B:723.3,x0:763.3,xu:88.3,y0:543.3,yu:78.1},
 {id:"updating-social",pts:updatingSocial,fit:updatingSocialFit,band:updatingSocialBand,xt:xTicksSocial,yt:yTicksUpdating,c:RED,L:1054.4,R:1520,T:410,B:726,x0:1311.4,xu:116.8,y0:546.7,yu:78.3},
 {id:"switching-emotional",pts:switchingEmotional,fit:switchingEmotionalFit,band:switchingEmotionalBand,xt:xTicksEmotional,yt:yTicksSwitching,c:BLUE,L:60.2,R:527.6,T:811.7,B:1128,x0:262.7,xu:86.2,y0:969.5,yu:64.3},
 {id:"switching-cognitive",pts:switchingCognitive,fit:switchingCognitiveFit,band:switchingCognitiveBand,xt:xTicksCognitive,yt:yTicksSwitching,c:GREEN,L:556.3,R:1023.6,T:814,B:1130,x0:767.8,xu:88.5,y0:971.7,yu:64.2},
 {id:"switching-social",pts:switchingSocial,fit:switchingSocialFit,band:switchingSocialBand,xt:xTicksSocial,yt:yTicksSwitching,c:RED,L:1057,R:1525,T:812.7,B:1128.7,x0:1314,xu:116.7,y0:970.7,yu:64.3},
 {id:"inhibition-emotional",pts:inhibitionEmotional,fit:inhibitionEmotionalFit,band:inhibitionEmotionalBand,xt:xTicksEmotional,yt:yTicksInhibition,c:BLUE,L:56.8,R:524.1,T:1218.3,B:1534.3,x0:259.3,xu:86.2,y0:1352.3,yu:73.3},
 {id:"inhibition-cognitive",pts:inhibitionCognitive,fit:inhibitionCognitiveFit,band:inhibitionCognitiveBand,xt:xTicksCognitive,yt:yTicksInhibition,c:GREEN,L:555,R:1022.3,T:1216,B:1532.7,x0:765.9,xu:88.4,y0:1351,yu:73.3},
 {id:"inhibition-social",pts:inhibitionSocial,fit:inhibitionSocialFit,band:inhibitionSocialBand,xt:xTicksSocial,yt:yTicksInhibition,c:RED,L:1055.6,R:1522,T:1216,B:1532.7,x0:1312.7,xu:116.7,y0:1351,yu:73.3},
 {id:"speed-emotional",pts:speedEmotional,fit:speedEmotionalFit,band:speedEmotionalBand,xt:xTicksEmotional,yt:yTicksSpeed,c:BLUE,L:61,R:529.3,T:1606.7,B:1921.7,x0:263.7,xu:86.2,y0:1809.5,yu:76.3},
 {id:"speed-cognitive",pts:speedCognitive,fit:speedCognitiveFit,band:speedCognitiveBand,xt:xTicksCognitive,yt:yTicksSpeed,c:GREEN,L:556.7,R:1024,T:1606.7,B:1921.7,x0:767.7,xu:88.2,y0:1810.7,yu:77.2},
 {id:"speed-social",pts:speedSocial,fit:speedSocialFit,band:speedSocialBand,xt:xTicksSocial,yt:yTicksSpeed,yl:yLabelsSpeedSocial,c:RED,L:1054.3,R:1522,T:1606.7,B:1921.7,x0:1311.7,xu:116.7,y0:1810.7,yu:77.4}
];

const NS = "http://www.w3.org/2000/svg";
function make(tag, attrs, parent) {
  const el = document.createElementNS(NS, tag);
  for (const k in attrs) el.setAttribute(k, attrs[k]);
  parent.appendChild(el);
  return el;
}
const root = document.getElementById("panels");
panels.forEach(function (p) {
  const sx = function (v) { return p.x0 + v * p.xu; };
  const sy = function (v) { return p.y0 - v * p.yu; };
  const g = make("g", {}, root);
  
  

  p.pts.forEach(function (d) {
    const dot = make("circle", {cx: sx(d[0]), cy: sy(d[1]), r: 6.4, fill: p.c}, g);
    
    
  });

  const upper = p.band.map(function (b) { return sx(b[0]) + "," + sy(b[2]); });
  const lower = p.band.slice().reverse().map(function (b) { return sx(b[0]) + "," + sy(b[1]); });
  const ribbon = make("polygon", {points: upper.concat(lower).join(" "), fill: "#999", "fill-opacity": 0.42}, g);
  
  

  const fit = make("line", {x1: sx(p.fit[0][0]), y1: sy(p.fit[0][1]), x2: sx(p.fit[1][0]), y2: sy(p.fit[1][1]), stroke: "#0c0c0c", "stroke-width": 5}, g);
  
  

  const axes = make("path", {d: "M" + p.L + " " + p.T + "V" + p.B + "H" + p.R, fill: "none", stroke: "#666", "stroke-width": 2}, g);
  
  

  p.xt.forEach(function (v) {
    const t = make("line", {x1: sx(v), x2: sx(v), y1: p.B, y2: p.B + 4, stroke: "#666", "stroke-width": 1.5}, g);
    
    
    const lab = make("text", {x: sx(v), y: p.B + 22, "text-anchor": "middle", "class": "tick-label"}, g);
    
    
    lab.textContent = String(v);
  });
  p.yt.forEach(function (v, i) {
    const t = make("line", {x1: p.L - 4, x2: p.L, y1: sy(v), y2: sy(v), stroke: "#666", "stroke-width": 1.5}, g);
    
    
    const lab = make("text", {x: p.L - 8.5, y: sy(v) + 5.6, "text-anchor": "end", "class": "tick-label"}, g);
    
    
    lab.textContent = p.yl ? p.yl[i] : String(v);
  });
});
</script>
</body>
</html>
